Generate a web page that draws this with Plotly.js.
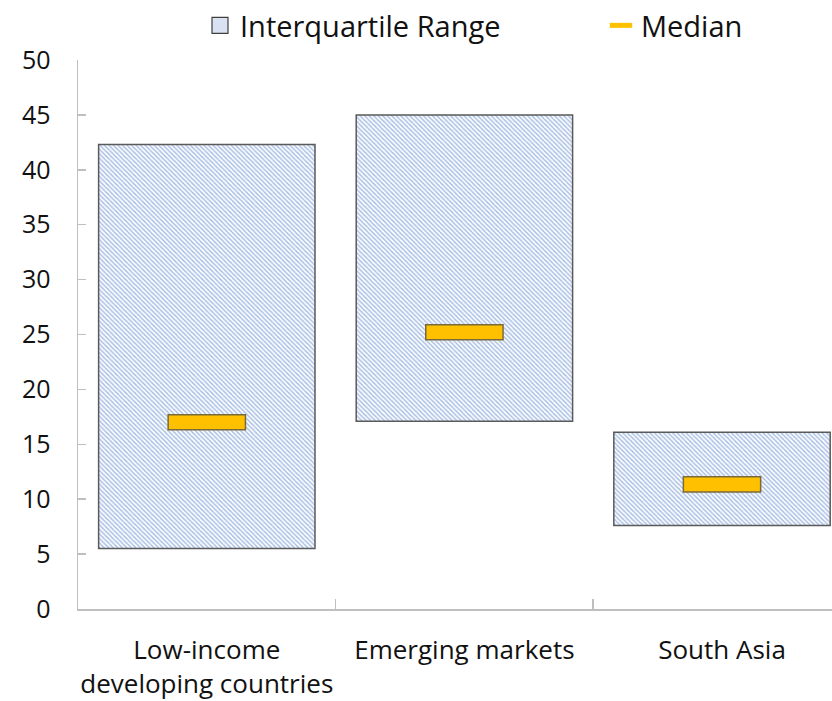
<!DOCTYPE html>
<html>
<head>
<meta charset="utf-8">
<script src="https://cdn.plot.ly/plotly-3.0.1.min.js"></script>
<style>html,body{margin:0;padding:0;background:#fff;}#chart{width:832px;height:701px;}</style>
</head>
<body>
<div id="chart"></div>
<script>
// Data
const categories = ["Low-income<br>developing countries", "Emerging markets", "South Asia"];
const q1 = [5.5, 17.1, 7.6];
const q3 = [42.3, 45.0, 16.1];
const median = [17.0, 25.2, 11.35];
const yTicks = [0, 5, 10, 15, 20, 25, 30, 35, 40, 45, 50];

const medianThickness = 1.37;
const iqrHeight = q3.map((v, i) => v - q1[i]);
const medianBase = median.map(m => m - medianThickness / 2);

const font = "'Open Sans', 'Noto Sans', sans-serif";

const traces = [
  {
    type: "bar", name: "Interquartile Range",
    x: categories, y: iqrHeight, base: q1, width: 0.84,
    marker: {
      color: "#a9bfe4",
      pattern: {shape: "\\", fgcolor: "#a9bfe4", bgcolor: "#ffffff", fillmode: "replace", size: 3.2, solidity: 0.45},
      line: {color: "#5a5a5a", width: 1.5}
    },
    showlegend: false, hoverinfo: "skip"
  },
  {
    type: "bar", name: "Median",
    x: categories, y: median.map(() => medianThickness), base: medianBase, width: 0.3,
    marker: {color: "#ffc000", line: {color: "#7a6a3a", width: 1.5}},
    showlegend: false, hoverinfo: "skip"
  },
  {
    type: "scatter", mode: "markers", name: "Interquartile Range",
    x: [null], y: [null], legend: "legend",
    marker: {symbol: "square", size: 16, color: "#d9e2f3", line: {color: "#404040", width: 1.2}},
    showlegend: true
  },
  {
    type: "scatter", mode: "markers", name: "Median",
    x: [null], y: [null], legend: "legend2",
    marker: {symbol: "line-ew", size: 16, color: "#ffc000", line: {color: "#ffc000", width: 5}},
    showlegend: true
  }
];

const legendCommon = {
  orientation: "h", xref: "container", yref: "container",
  xanchor: "left", y: 1, yanchor: "top",
  font: {family: font, size: 29, color: "#111111"},
  itemclick: false, itemdoubleclick: false
};

const layout = {
  width: 832, height: 701,
  margin: {l: 78, r: 0, t: 60, b: 92, pad: 0},
  paper_bgcolor: "#ffffff", plot_bgcolor: "#ffffff",
  font: {family: font, size: 25, color: "#111111"},
  barmode: "overlay",
  showlegend: true,
  legend: Object.assign({}, legendCommon, {x: 200 / 832}),
  legend2: Object.assign({}, legendCommon, {x: 601 / 832}),
  xaxis: {
    type: "category", range: [-0.5, 2.427],
    showline: true, linecolor: "#bfbfbf", linewidth: 1.5,
    ticks: "inside", tickson: "boundaries", ticklen: 10, tickcolor: "#bfbfbf", tickwidth: 1.5,
    showgrid: false, zeroline: false, ticklabelstandoff: 17, tickangle: 0,
    tickfont: {family: font, size: 26, color: "#111111"}
  },
  yaxis: {
    range: [0, 50], tickvals: yTicks, ticktext: yTicks.map(String),
    showline: true, linecolor: "#bfbfbf", linewidth: 1.5,
    ticks: "inside", ticklen: 8, tickcolor: "#bfbfbf", tickwidth: 1.5,
    showgrid: false, zeroline: false, ticklabelstandoff: 21,
    tickfont: {family: font, size: 25, color: "#111111"}
  }
};

Plotly.newPlot("chart", traces, layout, {staticPlot: true, displayModeBar: false});
</script>
</body>
</html>
